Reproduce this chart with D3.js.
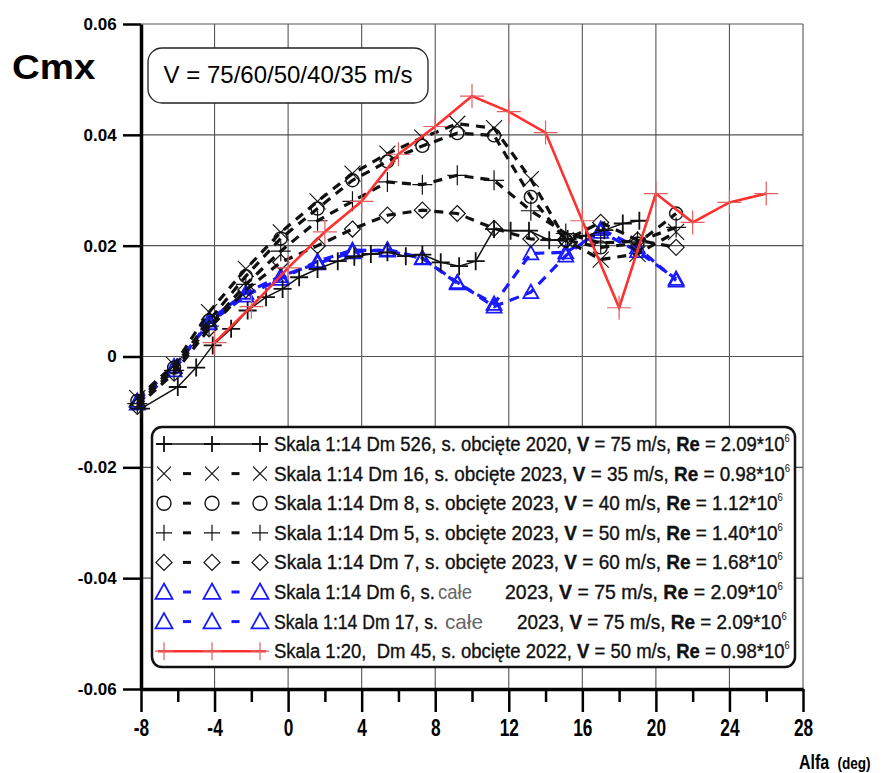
<!DOCTYPE html>
<html>
<head>
<meta charset="utf-8">
<script src="https://cdn.jsdelivr.net/npm/d3@7"></script>
<style>
  body { margin: 0; background: #fff; }
  svg { display: block; }
  text { font-family: "Liberation Sans", Arial, sans-serif; }
</style>
</head>
<body>
<div id="chart-area"></div>
<script>
// axis ticks
const xTicks = [-8, -4, 0, 4, 8, 12, 16, 20, 24, 28];
const xMinor = [-6, -2, 2, 6, 10, 14, 18, 22, 26];
const yTicks = [-0.06, -0.04, -0.02, 0, 0.02, 0.04, 0.06];
const yTickLabels = ['-0.06', '-0.04', '-0.02', '0', '0.02', '0.04', '0.06'];

// Dm 526, 2020, V = 75 m/s (solid black, +)
const alphaDm526 = [-8, -6, -5, -4.1, -3.1, -2.2, -1.2, -0.3, 0.6, 1.6, 2.7, 3.6, 4.5, 5.4, 6.4, 7.3, 8.3, 9.3, 10.2, 11.2, 12.1, 13.1, 14.2, 15.2, 16.2, 17.2, 18.2, 19.1];
const cmxDm526 = [-0.0094, -0.0055, -0.002, 0.002, 0.005, 0.0083, 0.0107, 0.0122, 0.0143, 0.0158, 0.0172, 0.018, 0.0185, 0.0188, 0.0181, 0.0184, 0.017, 0.0163, 0.0172, 0.023, 0.0227, 0.0227, 0.021, 0.0212, 0.0218, 0.0228, 0.024, 0.0245];

// 2023 dashed series share angles
const alpha2023 = [-8.2, -6.2, -4.3, -2.3, -0.4, 1.6, 3.5, 5.4, 7.3, 9.2, 11.2, 13.2, 15.1, 17.0, 19.0, 21.1];
const cmxDm16 = [-0.0075, -0.0015, 0.008, 0.0158, 0.0224, 0.028, 0.033, 0.0366, 0.0395, 0.042, 0.0412, 0.032, 0.021, 0.0175, 0.0185, 0.0225];
const cmxDm8 = [-0.008, -0.002, 0.0065, 0.0145, 0.0213, 0.0267, 0.0318, 0.0352, 0.038, 0.0403, 0.0399, 0.0288, 0.021, 0.0197, 0.0204, 0.0258];
const cmxDm5 = [-0.0085, -0.0025, 0.0055, 0.013, 0.019, 0.0245, 0.028, 0.0315, 0.031, 0.0327, 0.0318, 0.0263, 0.0222, 0.0205, 0.0208, 0.0233];
const cmxDm7 = [-0.009, -0.003, 0.005, 0.012, 0.017, 0.02, 0.023, 0.0255, 0.0264, 0.0258, 0.0231, 0.0212, 0.021, 0.0242, 0.021, 0.0197];
const cmxDm6 = [-0.008, -0.0018, 0.006, 0.011, 0.014, 0.0172, 0.0192, 0.0191, 0.0177, 0.0134, 0.009, 0.0116, 0.0182, 0.023, 0.0197, 0.0137];
const cmxDm17 = [-0.0085, -0.0025, 0.0065, 0.0115, 0.0145, 0.0168, 0.0188, 0.0193, 0.0178, 0.0132, 0.0095, 0.0186, 0.0188, 0.0225, 0.019, 0.014];

// Skala 1:20 Dm 45, 2022 (red)
const alphaDm45 = [-4, -2, 0, 2, 4, 6, 8, 10, 12, 14, 16, 18, 20, 22, 24, 26];
const cmxDm45 = [0.0025, 0.009, 0.016, 0.0225, 0.028, 0.0365, 0.0415, 0.047, 0.0442, 0.0404, 0.0245, 0.0088, 0.0294, 0.0242, 0.0278, 0.0294];

// legend texts, each ends with a superscript 6
const legendLabels = [
  { head: 'Skala 1:14 Dm 526, s. obcięte 2020, ', tail: ['V', ' = 75 m/s, ', 'Re', ' = 2.09*10'] },
  { head: 'Skala 1:14 Dm 16, s. obcięte 2023, ', tail: ['V', ' = 35 m/s, ', 'Re', ' = 0.98*10'] },
  { head: 'Skala 1:14 Dm 8, s. obcięte 2023, ', tail: ['V', ' = 40 m/s, ', 'Re', ' = 1.12*10'] },
  { head: 'Skala 1:14 Dm 5, s. obcięte 2023, ', tail: ['V', ' = 50 m/s, ', 'Re', ' = 1.40*10'] },
  { head: 'Skala 1:14 Dm 7, s. obcięte 2023, ', tail: ['V', ' = 60 m/s, ', 'Re', ' = 1.68*10'] },
  { head: 'Skala 1:14 Dm 6, s.', light: 'całe', tail: ['2023, ', 'V', ' = 75 m/s, ', 'Re', ' = 2.09*10'] },
  { head: 'Skala 1:14 Dm 17, s.', light: 'całe', tail: ['2023, ', 'V', ' = 75 m/s, ', 'Re', ' = 2.09*10'] },
  { head: 'Skala 1:20,\u00a0 Dm 45, s. obcięte 2022, ', tail: ['V', ' = 50 m/s, ', 'Re', ' = 0.98*10'] }
];

const width = 894, height = 773;
const svg = d3.select('#chart-area').append('svg')
  .attr('width', width).attr('height', height);

const x = d3.scaleLinear().domain([-8, 28]).range([141, 803]);
const y = d3.scaleLinear().domain([-0.06, 0.06]).range([689, 24]);

// squeeze a text element horizontally so it spans [x0, x1]
function fitText(sel, x0, x1) {
  const w = sel.node().getComputedTextLength();
  const k = (x1 - x0) / w;
  sel.attr('transform', `translate(${x0},0) scale(${k},1)`).attr('x', 0);
}

// grid
svg.append('g').selectAll('line')
  .data(xTicks.slice(1))
  .join('line')
  .attr('x1', d => x(d)).attr('x2', d => x(d))
  .attr('y1', y(0.06)).attr('y2', y(-0.06))
  .attr('stroke', '#555').attr('stroke-width', 1.1);
svg.append('g').selectAll('line')
  .data(yTicks.slice(1))
  .join('line')
  .attr('x1', x(-8)).attr('x2', x(28))
  .attr('y1', d => y(d)).attr('y2', d => y(d))
  .attr('stroke', '#555').attr('stroke-width', 1.1);

// axes
const xAxis = svg.append('g')
  .attr('transform', `translate(0,${y(-0.06)})`)
  .call(d3.axisBottom(x).tickValues(xTicks).tickSize(23).tickSizeOuter(0)
    .tickFormat(d => d < 0 ? '-' + Math.abs(d) : String(d)));
xAxis.select('.domain').attr('stroke-width', 3.5);
xAxis.selectAll('.tick line').attr('stroke-width', 2.5);
xAxis.selectAll('.tick text')
  .attr('font-size', 24).attr('font-weight', 'bold')
  .attr('y', 39).attr('dy', '0.35em').attr('fill', '#000')
  .attr('transform', 'scale(0.72,1)');

const xAxisMinor = svg.append('g')
  .attr('transform', `translate(0,${y(-0.06)})`)
  .call(d3.axisBottom(x).tickValues(xMinor).tickSize(13).tickFormat(''));
xAxisMinor.select('.domain').remove();
xAxisMinor.selectAll('.tick line').attr('stroke-width', 2.5);

const yAxis = svg.append('g')
  .attr('transform', `translate(${x(-8)},0)`)
  .call(d3.axisLeft(y).tickValues(yTicks).tickSize(18).tickSizeOuter(0)
    .tickFormat((d, i) => yTickLabels[i]));
yAxis.select('.domain').attr('stroke-width', 3.5);
yAxis.selectAll('.tick line').attr('stroke-width', 2.5);
yAxis.selectAll('.tick text')
  .attr('font-size', 17).attr('font-weight', 'bold')
  .attr('dx', '-0.2em').attr('fill', '#000');

// axis titles
svg.append('text')
  .attr('x', 0).attr('y', 79)
  .attr('transform', 'translate(12,0) scale(1.1,1)')
  .attr('font-size', 35).attr('font-weight', 'bold')
  .text('Cmx');
const xt = svg.append('g').attr('transform', 'translate(799,769) scale(0.8,1)');
xt.append('text').attr('x', 0).attr('y', 0)
  .attr('font-size', 20).attr('font-weight', 'bold').text('Alfa');
xt.append('text').attr('x', 48).attr('y', 0)
  .attr('font-size', 17).attr('font-weight', 'bold').text('(deg)');

// header box
svg.append('rect')
  .attr('x', 148).attr('y', 48).attr('width', 280).attr('height', 55)
  .attr('rx', 14).attr('fill', '#fff').attr('stroke', '#222').attr('stroke-width', 1.3);
svg.append('text')
  .attr('x', 288).attr('y', 83).attr('text-anchor', 'middle')
  .attr('font-size', 24)
  .text('V = 75/60/50/40/35 m/s');

// marker shapes
const markerPath = {
  plus: s => `M${-s},0H${s}M0,${-s}V${s}`,
  cross: s => `M${-s},${-s}L${s},${s}M${s},${-s}L${-s},${s}`,
  diamond: s => `M0,${-s}L${s},0L0,${s}L${-s},0Z`,
  triangle: s => `M0,${-s}L${s},${s * 0.8}L${-s},${s * 0.8}Z`
};

const series = [
  { a: alpha2023, v: cmxDm6, color: '#1a1aff', dash: '10,7', w: 3.2, marker: 'triangle', ms: 7.5, mw: 1.8 },
  { a: alpha2023, v: cmxDm17, color: '#1a1aff', dash: '10,7', w: 3.2, marker: 'triangle', ms: 7.5, mw: 1.8 },
  { a: alpha2023, v: cmxDm7, color: '#111', dash: '9,7', w: 3.2, marker: 'diamond', ms: 8, mw: 1.2 },
  { a: alpha2023, v: cmxDm5, color: '#111', dash: '9,7', w: 3.2, marker: 'plus', ms: 10, mw: 1.2 },
  { a: alpha2023, v: cmxDm8, color: '#111', dash: '9,7', w: 3.2, marker: 'circle', ms: 6.5, mw: 1.4 },
  { a: alpha2023, v: cmxDm16, color: '#111', dash: '9,7', w: 3.2, marker: 'cross', ms: 8, mw: 1.1 },
  { a: alphaDm526, v: cmxDm526, color: '#111', dash: null, w: 1.5, marker: 'plus', ms: 9, mw: 1.8 },
  { a: alphaDm45, v: cmxDm45, color: '#ff3030', dash: null, w: 2.6, marker: 'plus', ms: 12, mw: 1.2, mcolor: '#e06060' }
];

const line = d3.line().x(d => x(d[0])).y(d => y(d[1]));

function drawMarker(g, s, px, py, ms) {
  const c = s.mcolor || s.color;
  const size = ms || s.ms;
  if (s.marker === 'circle') {
    g.append('circle').attr('cx', px).attr('cy', py).attr('r', size)
      .attr('fill', 'none').attr('stroke', c).attr('stroke-width', s.mw);
  } else {
    g.append('path').attr('transform', `translate(${px},${py})`)
      .attr('d', markerPath[s.marker](size))
      .attr('fill', 'none').attr('stroke', c).attr('stroke-width', s.mw);
  }
}

series.forEach(s => {
  const pts = s.a.map((a, i) => [a, s.v[i]]);
  const g = svg.append('g');
  g.append('path').attr('d', line(pts))
    .attr('fill', 'none').attr('stroke', s.color).attr('stroke-width', s.w)
    .attr('stroke-dasharray', s.dash);
  pts.forEach(p => drawMarker(g, s, x(p[0]), y(p[1])));
});

// legend
const legend = svg.append('g');
legend.append('rect')
  .attr('x', 152).attr('y', 427).attr('width', 643).attr('height', 240)
  .attr('rx', 10).attr('fill', '#fff').attr('stroke', '#111').attr('stroke-width', 2.5);

const legendOrder = [6, 5, 4, 3, 2, 0, 1, 7];
const legendMs = [8, 7, 7, 8, 8, 8.5, 8.5, 9];
const rowEnds = [790, 790, 783, 783, 783, 783, 787, 790];
const headEnds = [null, null, null, null, null, 435, 438, null];
const lightSpan = [null, null, null, null, null, [438, 472], [445, 483], null];
const tailStarts = [null, null, null, null, null, 505, 517, null];
const fs = 20;
const textX = 274;

function legendText(g, base, color) {
  return g.append('text').attr('y', base).attr('font-size', fs)
    .attr('fill', color || '#111').attr('stroke', color || '#111').attr('stroke-width', 0.35);
}

legendLabels.forEach((lab, i) => {
  const s = series[legendOrder[i]];
  const cy = 444 + i * 29.6;
  const g = legend.append('g');
  if (s.dash) {
    [[163, 211], [211, 260]].forEach(([a, b]) => {
      g.append('line').attr('x1', (a + b) / 2 - 4).attr('x2', (a + b) / 2 + 4)
        .attr('y1', cy).attr('y2', cy)
        .attr('stroke', s.color).attr('stroke-width', 3);
    });
  } else {
    g.append('line').attr('x1', 158).attr('x2', 266).attr('y1', cy).attr('y2', cy)
      .attr('stroke', s.color).attr('stroke-width', s.w);
  }
  [164, 212, 260].forEach(mx => drawMarker(g, s, mx, cy, legendMs[i]));

  const base = cy + 7;
  const addTail = (t, parts) => {
    parts.forEach(p => {
      t.append('tspan').attr('font-weight', (p === 'V' || p === 'Re') ? 'bold' : null).text(p);
    });
    t.append('tspan').attr('font-size', 10).attr('dy', -9).attr('stroke-width', 0).text('6');
  };

  if (lab.light) {
    const t1 = legendText(g, base);
    t1.text(lab.head);
    fitText(t1, textX, headEnds[i]);
    const tl = g.append('text').attr('y', base).attr('font-size', fs).attr('fill', '#666').text(lab.light);
    fitText(tl, lightSpan[i][0], lightSpan[i][1]);
    const t2 = legendText(g, base);
    addTail(t2, lab.tail);
    fitText(t2, tailStarts[i], rowEnds[i]);
  } else {
    const t = legendText(g, base);
    t.append('tspan').text(lab.head);
    addTail(t, lab.tail);
    fitText(t, textX, rowEnds[i]);
  }
});
</script>
</body>
</html>
